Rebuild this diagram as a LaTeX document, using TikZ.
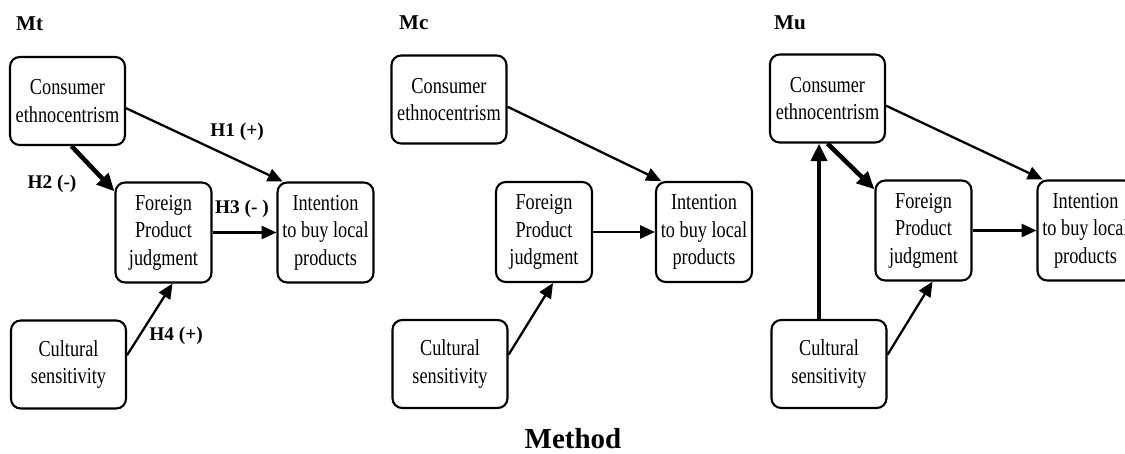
\documentclass[tikz,border=0pt]{standalone}
\usepackage{fontspec}
\setmainfont{Liberation Serif}
\newfontfamily\narrowserif[FakeStretch=0.8]{Liberation Serif}
\usetikzlibrary{arrows.meta,calc}

\tikzset{
  box/.style={draw, line width=1.2pt, rounded corners=5.5pt, align=center, inner sep=0pt,
    font=\narrowserif\fontsize{13}{15.6}\selectfont},
  widebox/.style={box, minimum width=2.3cm, minimum height=1.76cm},
  tallbox/.style={box, minimum width=1.92cm, minimum height=2cm},
  arr/.style={line width=1.3pt, -{Triangle[length=8.5pt,width=7.5pt]}},
  boldarr/.style={line width=2.6pt, -{Triangle[length=10pt,width=9pt]}},
  hlabel/.style={font=\bfseries\fontsize{11}{13}\selectfont},
  paneltitle/.style={font=\bfseries\fontsize{12}{14}\selectfont, anchor=west}
}

\begin{document}
\begin{tikzpicture}[x=0.02cm, y=-0.02cm]
		\useasboundingbox (0,0) rectangle (1125,453);
		% Mt
		\begin{scope}
			\node[paneltitle] (t-title) at (10,24) {Mt};
			\node[widebox] (t-ce) at (67.5,101) {Consumer\\ethnocentrism};
			\node[tallbox] (t-fp) at (163.5,232.5) {Foreign\\Product\\judgment};
			\node[tallbox] (t-in) at (325.5,232.5) {Intention\\to buy local\\products};
			\node[widebox] (t-cs) at (68.5,364.5) {Cultural\\sensitivity};
			\draw[arr] (t-ce.-7) -- (t-in.130);
			\draw[boldarr] (t-ce.-85) -- (t-fp.140);
			\draw[arr] (t-fp.east) -- (t-in.west);
			\draw[arr] (t-cs.9) -- (t-fp.-80);
			\node[hlabel] (t-h1) at (237,132) {H1 (+)};
			\node[hlabel] (t-h2) at (52,184) {H2 (-)};
			\node[hlabel] (t-h3) at (242,209) {H3 (- )};
			\node[hlabel] (t-h4) at (176,336) {H4 (+)};
		\end{scope}
		% Mc
		\begin{scope}[shift={(381,0)}]
			\node[paneltitle] (c-title) at (12,23) {Mc};
			\node[widebox] (c-ce) at (68,99.5) {Consumer\\ethnocentrism};
			\node[tallbox] (c-fp) at (163,232) {Foreign\\Product\\judgment};
			\node[tallbox] (c-in) at (323,232) {Intention\\to buy local\\products};
			\node[widebox] (c-cs) at (69,364) {Cultural\\sensitivity};
			\draw[arr] (c-ce.-7) -- (c-in.130);
			\draw[arr] (c-fp.east) -- (c-in.west);
			\draw[arr] (c-cs.9) -- (c-fp.-80);
		\end{scope}
		% Mu
		\begin{scope}[shift={(760,-2)}]
			\node[paneltitle] (u-title) at (8,25) {Mu};
			\node[widebox] (u-ce) at (67.5,100.5) {Consumer\\ethnocentrism};
			\node[tallbox] (u-fp) at (163.5,232.5) {Foreign\\Product\\judgment};
			\node[tallbox] (u-in) at (325.5,232.5) {Intention\\to buy local\\products};
			\node[widebox] (u-cs) at (69,366) {Cultural\\sensitivity};
			\coordinate (u-up) at ($(u-cs.north)+(-10,0)$);
			\draw[boldarr] (u-up) -- (u-up |- u-ce.south);
			\draw[arr] (u-ce.-7) -- (u-in.130);
			\draw[boldarr] (u-ce.south) -- (u-fp.140);
			\draw[arr] (u-fp.east) -- (u-in.west);
			\draw[arr] (u-cs.9) -- (u-fp.-80);
		\end{scope}
		\node[font=\bfseries\fontsize{16.5}{19}\selectfont] (method) at (573,439) {Method};
	\end{tikzpicture}
\end{document}
